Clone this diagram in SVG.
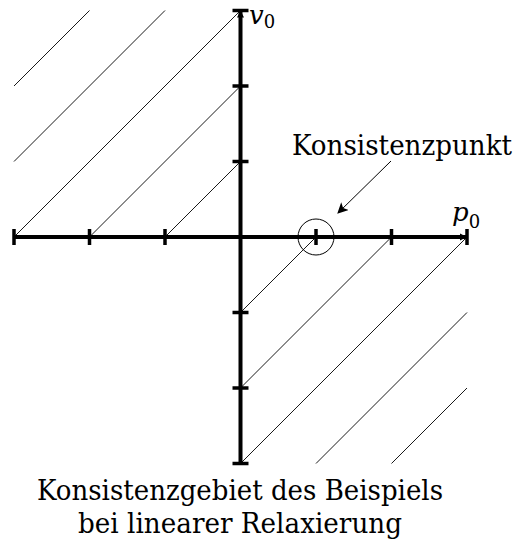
<svg xmlns="http://www.w3.org/2000/svg" width="518" height="544" viewBox="0 0 518 544">
<style>
.hatch{stroke:#000;stroke-width:0.9;fill:none}
.axis{stroke:#000;stroke-width:4;fill:none}
.tick{stroke:#000;stroke-width:3.5;fill:none}
.t{font-family:'DejaVu Serif','Liberation Serif',serif;fill:#000}
</style>
<defs>
<marker id="ah" viewBox="0 0 10 10" refX="9" refY="5" markerWidth="11" markerHeight="11" markerUnits="userSpaceOnUse" orient="auto">
<path d="M0,0 L10,5 L0,10 L2.5,5 Z" fill="#000"/>
</marker>
</defs>
<g id="hatching">
<line class="hatch" x1="14" y1="86" x2="89.5" y2="10.5"/>
<line class="hatch" x1="14" y1="161.5" x2="165" y2="10.5"/>
<line class="hatch" x1="14" y1="237" x2="240.5" y2="10.5"/>
<line class="hatch" x1="89.5" y1="237" x2="240.5" y2="86"/>
<line class="hatch" x1="165" y1="237" x2="240.5" y2="161.5"/>
<line class="hatch" x1="240.5" y1="312.5" x2="316" y2="237"/>
<line class="hatch" x1="240.5" y1="388" x2="391.5" y2="237"/>
<line class="hatch" x1="240.5" y1="463.5" x2="467" y2="237"/>
<line class="hatch" x1="316" y1="463.5" x2="467" y2="312.5"/>
<line class="hatch" x1="391.5" y1="463.5" x2="467" y2="388"/>
</g>
<g id="axes">
<line class="axis" x1="14" y1="237" x2="467" y2="237"/>
<line class="axis" x1="240.5" y1="463.5" x2="240.5" y2="10.5"/>
<path d="M467,237 L460,233.5 L460,240.5 Z" fill="#000"/>
<path d="M240.5,10.5 L237,17.5 L244,17.5 Z" fill="#000"/>
<line class="tick" x1="14" y1="229" x2="14" y2="245"/>
<line class="tick" x1="89.5" y1="229" x2="89.5" y2="245"/>
<line class="tick" x1="165" y1="229" x2="165" y2="245"/>
<line class="tick" x1="316" y1="229" x2="316" y2="245"/>
<line class="tick" x1="391.5" y1="229" x2="391.5" y2="245"/>
<line class="tick" x1="467" y1="229" x2="467" y2="245"/>
<line class="tick" x1="232.5" y1="10.5" x2="248.5" y2="10.5"/>
<line class="tick" x1="232.5" y1="86" x2="248.5" y2="86"/>
<line class="tick" x1="232.5" y1="161.5" x2="248.5" y2="161.5"/>
<line class="tick" x1="232.5" y1="312.5" x2="248.5" y2="312.5"/>
<line class="tick" x1="232.5" y1="388" x2="248.5" y2="388"/>
<line class="tick" x1="232.5" y1="463.5" x2="248.5" y2="463.5"/>
</g>
<g id="axis-labels">
<text class="t" x="249" y="24" font-size="26"><tspan font-style="italic">v</tspan><tspan font-size="18" dy="4">0</tspan></text>
<text class="t" x="452" y="221" font-size="26"><tspan font-style="italic">p</tspan><tspan font-size="18" dy="7">0</tspan></text>
</g>
<g id="konsistenzpunkt">
<circle cx="316" cy="237" r="18" fill="none" stroke="#000" stroke-width="1"/>
<text class="t" x="292" y="155" font-size="27" textLength="220" lengthAdjust="spacingAndGlyphs">Konsistenzpunkt</text>
</g>
<g id="connectors">
<line x1="391" y1="161" x2="338" y2="213" stroke="#000" stroke-width="1" marker-end="url(#ah)"/>
</g>
<g id="caption">
<text class="t" x="37" y="500" font-size="27" textLength="406" lengthAdjust="spacingAndGlyphs">Konsistenzgebiet des Beispiels</text>
<text class="t" x="78" y="533" font-size="27" textLength="324" lengthAdjust="spacingAndGlyphs">bei linearer Relaxierung</text>
</g>
</svg>
